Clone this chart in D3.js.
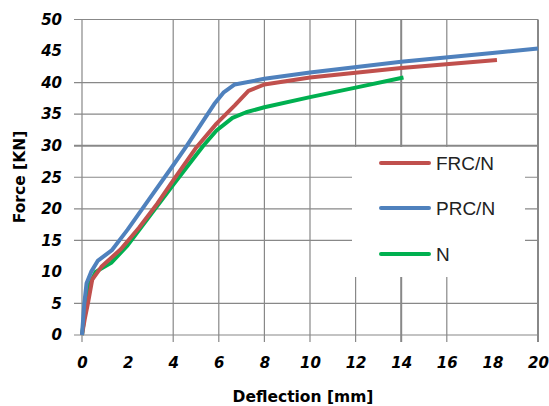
<html>
<head>
<script src="https://d3js.org/d3.v7.min.js"></script>
<style>
body { margin: 0; background: #fff; }
svg { display: block; }
</style>
</head>
<body>
<script type="text/javascript">
// axis ticks
var xTicks = [0, 2, 4, 6, 8, 10, 12, 14, 16, 18, 20];
var yTicks = [0, 5, 10, 15, 20, 25, 30, 35, 40, 45, 50];
// gridlines that survive in the picture (some were lost when it was shrunk)
var xGrid = [0, 4, 6, 8, 10, 12, 14, 16, 20];
var yGrid = [0, 5, 15, 20, 25, 30, 35, 40, 50];

var seriesNames = ["FRC/N", "PRC/N", "N"];

// deflection [mm], force [KN]
var frcX = [0, 0.12, 0.26, 0.45, 0.85, 1.7, 2.5, 3.3, 4, 5.03, 5.9, 6.7, 7.3, 8, 10, 14, 18.2];
var frcY = [0, 2.5, 5, 8.8, 10.8, 13.6, 17, 20.8, 24.5, 29.8, 33.5, 36.4, 38.7, 39.7, 40.8, 42.3, 43.6];

var prcX = [0, 0.1, 0.2, 0.4, 0.7, 1.3, 2, 3, 4, 4.6, 5.2, 5.8, 6.2, 6.7, 8, 10, 14, 18, 20];
var prcY = [0, 5, 8.2, 10, 11.8, 13.4, 16.7, 21.8, 26.9, 30, 33.3, 36.6, 38.4, 39.7, 40.6, 41.6, 43.3, 44.7, 45.4];

var nX = [0, 0.12, 0.3, 0.6, 1.3, 2, 3, 4, 5.32, 5.9, 6.6, 7.2, 8, 10, 12, 14.1];
var nY = [0, 3.3, 7.8, 10, 11.5, 14.2, 19, 23.8, 30, 32.4, 34.4, 35.3, 36.1, 37.7, 39.2, 40.8];

var colors = ["#C0504D", "#4F81BD", "#00B050"];
var gridColor = "#888888";

var svg = d3.select("body").append("svg")
    .attr("width", 549)
    .attr("height", 406);

var x = d3.scaleLinear().domain([0, 20]).range([82, 538]);
var y = d3.scaleLinear().domain([0, 50]).range([335, 19.5]);

// gridlines
svg.selectAll(".vgrid").data(xGrid).enter().append("line")
    .attr("class", "vgrid")
    .attr("x1", function(d) { return x(d); })
    .attr("x2", function(d) { return x(d); })
    .attr("y1", y(50))
    .attr("y2", y(0) + 7)
    .attr("stroke", gridColor)
    .attr("stroke-width", function(d) { return (d == 14 || d == 20) ? 2 : 1.2; });

svg.selectAll(".hgrid").data(yGrid).enter().append("line")
    .attr("class", "hgrid")
    .attr("x1", x(0) - 8)
    .attr("x2", x(20))
    .attr("y1", function(d) { return y(d); })
    .attr("y2", function(d) { return y(d); })
    .attr("stroke", gridColor)
    .attr("stroke-width", function(d) { return d == 30 ? 2 : 1.2; });

// tick labels
var xAxis = svg.append("g")
    .attr("transform", "translate(0," + y(0) + ")")
    .call(d3.axisBottom(x).tickValues(xTicks).tickSize(0).tickPadding(22).tickFormat(d3.format("d")));
var yAxis = svg.append("g")
    .attr("transform", "translate(" + x(0) + ",0)")
    .call(d3.axisLeft(y).tickValues(yTicks).tickSize(0).tickPadding(20).tickFormat(d3.format("d")));

[xAxis, yAxis].forEach(function(a) {
    a.select(".domain").remove();
    a.selectAll("text")
        .style("font-family", "DejaVu Sans")
        .style("font-size", "15px")
        .style("font-weight", "bold")
        .style("font-style", "italic")
        .style("fill", "#000");
});

// axis titles
svg.append("text")
    .attr("x", 303)
    .attr("y", 402)
    .attr("text-anchor", "middle")
    .style("font-family", "DejaVu Sans")
    .style("font-size", "15.5px")
    .style("font-weight", "bold")
    .text("Deflection [mm]");

svg.append("text")
    .attr("transform", "translate(25,177) rotate(-90)")
    .attr("text-anchor", "middle")
    .style("font-family", "DejaVu Sans")
    .style("font-size", "15.5px")
    .style("font-weight", "bold")
    .text("Force [KN]");

// curves
var series = [
    {xs: frcX, ys: frcY},
    {xs: prcX, ys: prcY},
    {xs: nX, ys: nY}
];
var line = d3.line()
    .x(function(d) { return x(d[0]); })
    .y(function(d) { return y(d[1]); });

// draw green first, then red, blue on top
[2, 0, 1].forEach(function(i) {
    var pts = series[i].xs.map(function(v, j) { return [v, series[i].ys[j]]; });
    svg.append("path")
        .attr("d", line(pts))
        .attr("fill", "none")
        .attr("stroke", colors[i])
        .attr("stroke-width", 4)
        .attr("stroke-linejoin", "round");
});

// legend
svg.append("rect")
    .attr("x", 352)
    .attr("y", 147)
    .attr("width", 173)
    .attr("height", 130)
    .attr("fill", "#fff");

var legendY = [163, 208, 254];
seriesNames.forEach(function(name, i) {
    svg.append("line")
        .attr("x1", 381)
        .attr("x2", 429)
        .attr("y1", legendY[i])
        .attr("y2", legendY[i])
        .attr("stroke", colors[i])
        .attr("stroke-width", 4)
        .attr("stroke-linecap", "round");
    svg.append("text")
        .attr("x", 436)
        .attr("y", legendY[i])
        .attr("dy", "0.35em")
        .style("font-family", "Liberation Sans")
        .style("font-size", "19px")
        .style("fill", "#222")
        .text(name);
});
</script>
</body>
</html>
